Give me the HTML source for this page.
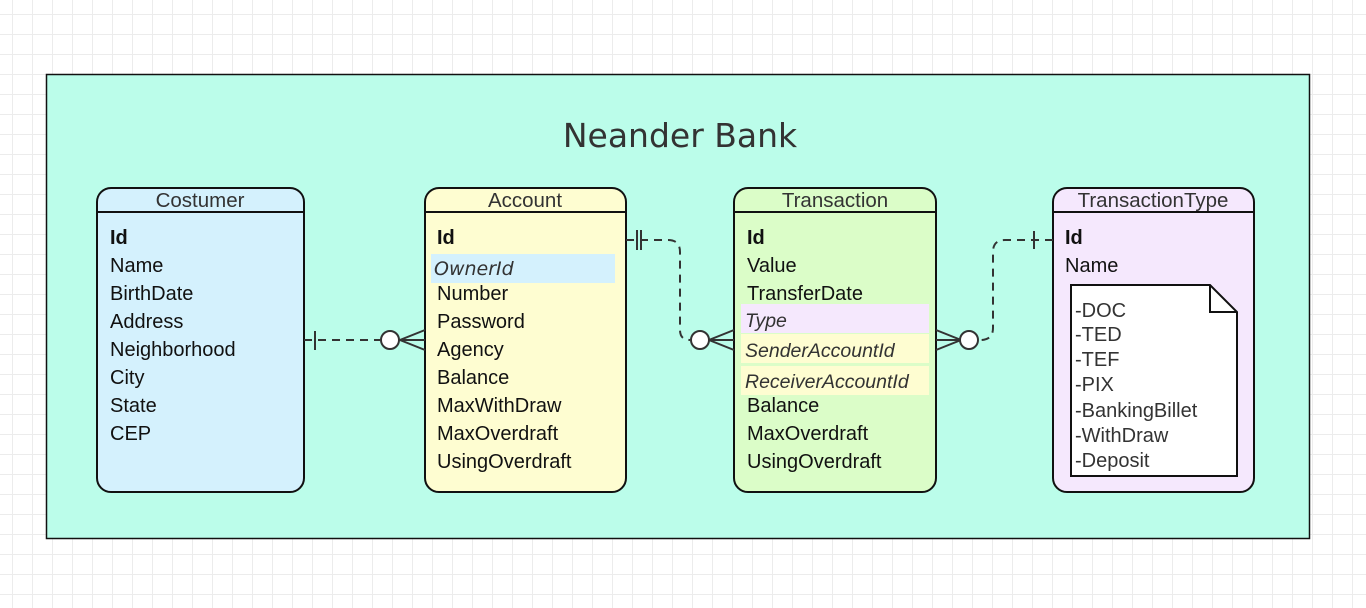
<!DOCTYPE html>
<html><head><style>
body{margin:0;width:1366px;height:608px;overflow:hidden;background:#fff;
background-image:linear-gradient(#ececec 1px,transparent 1px),linear-gradient(90deg,#ececec 1px,transparent 1px);background-size:20px 20px;background-position:-8px -6px;}
svg{position:absolute;left:0;top:0}
text{font-family:"Liberation Sans",sans-serif;}
</style></head><body>
<svg width="1366" height="608" xmlns="http://www.w3.org/2000/svg">
<rect x="46.5" y="74.5" width="1263" height="464" fill="#bbfdea" stroke="#111" stroke-width="1.5"/>
<text x="680" y="147" font-size="33" fill="#333" text-anchor="middle" style="font-family:'DejaVu Sans',sans-serif">Neander Bank</text>

<g stroke="#111" stroke-width="2">
<rect x="97" y="188" width="207" height="304" rx="14" fill="#d4f1fd"/>
<line x1="97" y1="212" x2="304" y2="212"/>
<rect x="425" y="188" width="201" height="304" rx="14" fill="#fefdd1"/>
<line x1="425" y1="212" x2="626" y2="212"/>
<rect x="734" y="188" width="202" height="304" rx="14" fill="#dbfdc8"/>
<line x1="734" y1="212" x2="936" y2="212"/>
<rect x="1053" y="188" width="201" height="304" rx="14" fill="#f5e8fd"/>
<line x1="1053" y1="212" x2="1254" y2="212"/>
</g>
<g font-size="20.5" fill="#333" text-anchor="middle">
<text x="200" y="207">Costumer</text>
<text x="525" y="207">Account</text>
<text x="835" y="207">Transaction</text>
<text x="1153" y="207">TransactionType</text>
</g>

<rect x="431" y="254" width="184" height="29" fill="#d4f1fd"/>
<rect x="741" y="304" width="188" height="29" fill="#f5e8fd"/>
<rect x="741" y="334" width="188" height="29" fill="#fefdd1"/>
<rect x="741" y="366" width="188" height="29" fill="#fefdd1"/>

<g font-size="20" fill="#111">
<text x="110" y="244" font-weight="bold">Id</text>
<text x="110" y="272">Name</text><text x="110" y="300">BirthDate</text><text x="110" y="328">Address</text>
<text x="110" y="356">Neighborhood</text><text x="110" y="384">City</text><text x="110" y="412">State</text><text x="110" y="440">CEP</text>

<text x="437" y="244" font-weight="bold">Id</text>
<text x="434" y="275" font-style="italic" fill="#333" style="font-family:'DejaVu Sans',sans-serif;font-size:19px">OwnerId</text>
<text x="437" y="300">Number</text><text x="437" y="328">Password</text><text x="437" y="356">Agency</text>
<text x="437" y="384">Balance</text><text x="437" y="412">MaxWithDraw</text><text x="437" y="440">MaxOverdraft</text><text x="437" y="468">UsingOverdraft</text>

<text x="747" y="244" font-weight="bold">Id</text>
<text x="747" y="272">Value</text><text x="747" y="300">TransferDate</text>
<g font-style="italic" fill="#333" style="font-family:'DejaVu Sans',sans-serif;font-size:19.5px">
<text x="745" y="327">Type</text><text x="745" y="357">SenderAccountId</text><text x="745" y="388">ReceiverAccountId</text>
</g>
<text x="747" y="412">Balance</text><text x="747" y="440">MaxOverdraft</text><text x="747" y="468">UsingOverdraft</text>

<text x="1065" y="244" font-weight="bold">Id</text>
<text x="1065" y="272">Name</text>
</g>

<path d="M1071 285 H1210 L1237 312 V476 H1071 Z" fill="#fff" stroke="#111" stroke-width="2"/>
<path d="M1210 285 V312 H1237" fill="none" stroke="#111" stroke-width="2"/>
<g font-size="20" fill="#333">
<text x="1075" y="317">-DOC</text><text x="1075" y="341">-TED</text><text x="1075" y="366">-TEF</text>
<text x="1075" y="391">-PIX</text><text x="1075" y="417">-BankingBillet</text><text x="1075" y="442">-WithDraw</text><text x="1075" y="467">-Deposit</text>
</g>

<g stroke="#333" stroke-width="2" fill="none">
<path d="M304 340 H380" stroke-dasharray="8 6"/>
<line x1="315" y1="331" x2="315" y2="350"/>
<path d="M425 330 L400 340 L425 350 M400 340 H425"/>
<path d="M626 240 H668 Q680 240 680 252 V330 Q680 340 690 340" stroke-dasharray="8 6"/>
<line x1="637" y1="230" x2="637" y2="250"/><line x1="641" y1="230" x2="641" y2="250"/>
<path d="M734 330 L709 340 L734 350 M709 340 H734"/>
<path d="M1053 240 H1005 Q993 240 993 252 V328 Q993 340 980 340" stroke-dasharray="8 6"/>
<line x1="1034" y1="231" x2="1034" y2="249"/>
<path d="M936 330 L961 340 L936 350 M961 340 H936"/>
</g>
<g fill="#fff" stroke="#333" stroke-width="2">
<circle cx="390" cy="340" r="9"/><circle cx="700" cy="340" r="9"/><circle cx="969" cy="340" r="9"/>
</g>
</svg>
</body></html>
